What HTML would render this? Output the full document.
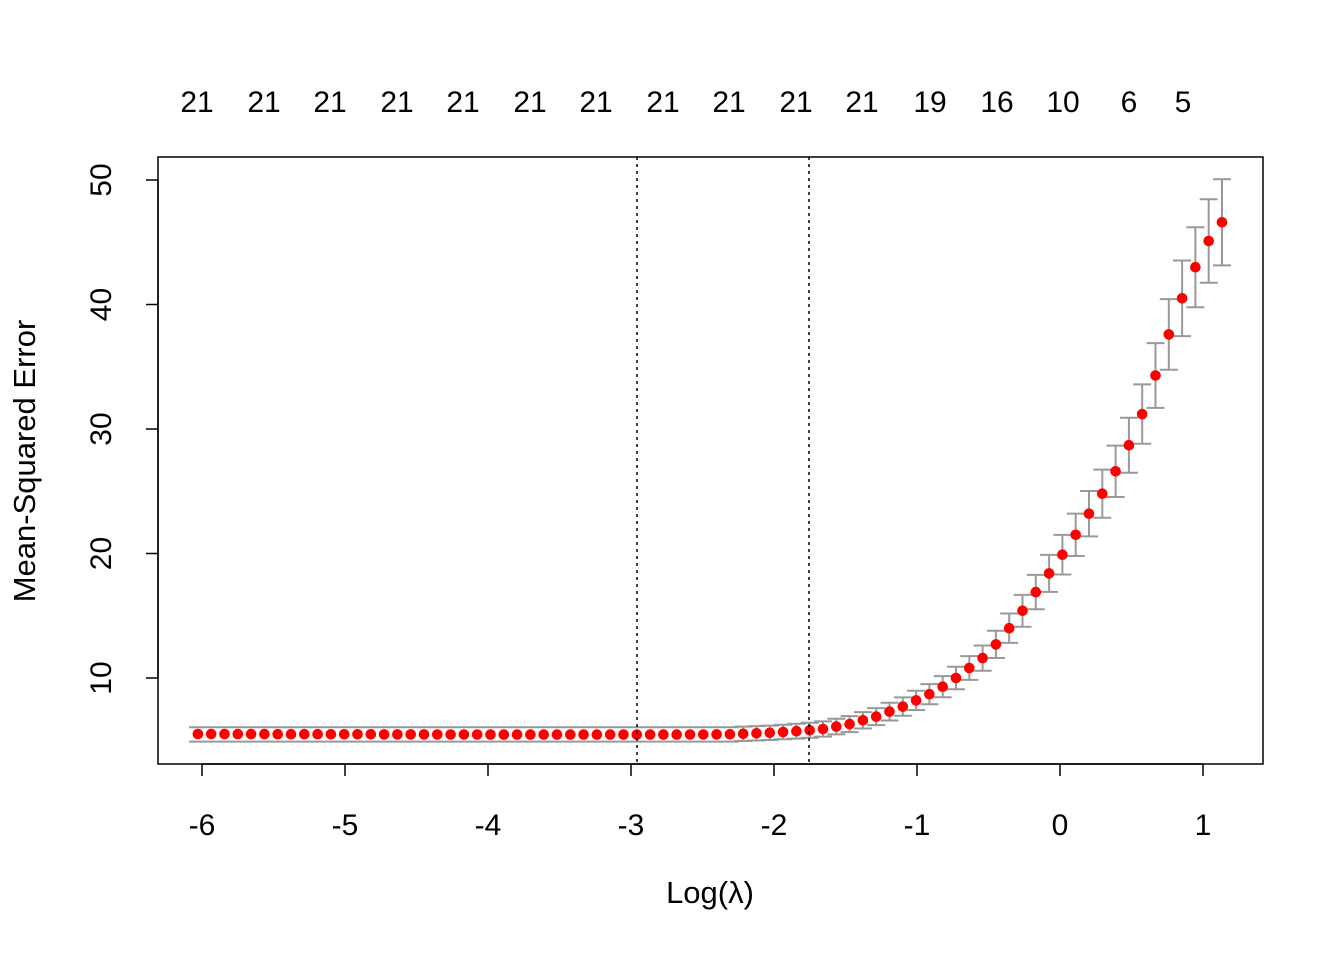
<!DOCTYPE html>
<html><head><meta charset="utf-8"><style>
html,body{margin:0;padding:0;background:#fff;}
svg text{font-family:"Liberation Sans",Arial,sans-serif;fill:#000;}
</style></head><body>
<svg width="1344" height="960" xmlns="http://www.w3.org/2000/svg">
<rect x="158" y="157" width="1105" height="607" fill="none" stroke="#000" stroke-width="1.5"/>
<g stroke="#999" stroke-width="2" fill="none">
<line x1="189" y1="727.2" x2="739" y2="727.2"/>
<line x1="189" y1="741.6" x2="739" y2="741.6"/>
<path d="M1222 179.2V265.4M1213 179.2H1231M1213 265.4H1231
M1208.7 199.2V282.8M1199.7 199.2H1217.7M1199.7 282.8H1217.7
M1195.4 227.2V307.2M1186.4 227.2H1204.4M1186.4 307.2H1204.4
M1182.1 260.5V336.1M1173.1 260.5H1191.1M1173.1 336.1H1191.1
M1168.8 299.1V369.7M1159.8 299.1H1177.8M1159.8 369.7H1177.8
M1155.5 343.1V407.9M1146.5 343.1H1164.5M1146.5 407.9H1164.5
M1142.2 384.4V443.8M1133.2 384.4H1151.2M1133.2 443.8H1151.2
M1128.9 417.7V472.7M1119.9 417.7H1137.9M1119.9 472.7H1137.9
M1115.6 445.6V497M1106.6 445.6H1124.6M1106.6 497H1124.6
M1102.3 469.6V517.8M1093.3 469.6H1111.3M1093.3 517.8H1111.3
M1089 491V536.4M1080 491H1098M1080 536.4H1098
M1075.7 513.6V556M1066.7 513.6H1084.7M1066.7 556H1084.7
M1062.4 534.9V574.5M1053.4 534.9H1071.4M1053.4 574.5H1071.4
M1049.1 554.9V591.9M1040.1 554.9H1058.1M1040.1 591.9H1058.1
M1035.8 574.9V609.3M1026.8 574.9H1044.8M1026.8 609.3H1044.8
M1022.5 594.9V626.7M1013.5 594.9H1031.5M1013.5 626.7H1031.5
M1009.2 613.5V642.9M1000.2 613.5H1018.2M1000.2 642.9H1018.2
M995.9 630.8V658M986.9 630.8H1004.9M986.9 658H1004.9
M982.6 645.5V670.7M973.6 645.5H991.6M973.6 670.7H991.6
M969.3 656.1V679.9M960.3 656.1H978.3M960.3 679.9H978.3
M956 666.8V689.2M947 666.8H965M947 689.2H965
M942.7 676.1V697.3M933.7 676.1H951.7M933.7 697.3H951.7
M929.4 684.1V704.3M920.4 684.1H938.4M920.4 704.3H938.4
M916.1 690.8V710M907.1 690.8H925.1M907.1 710H925.1
M902.8 697.4V715.8M893.8 697.4H911.8M893.8 715.8H911.8
M889.5 702.7V720.5M880.5 702.7H898.5M880.5 720.5H898.5
M876.2 708.1V725.1M867.2 708.1H885.2M867.2 725.1H885.2
M862.9 712.1V728.5M853.9 712.1H871.9M853.9 728.5H871.9
M849.6 716.1V732.1M840.6 716.1H858.6M840.6 732.1H858.6
M836.3 718.8V734.4M827.3 718.8H845.3M827.3 734.4H845.3
M823 721.4V736.6M814 721.4H832M814 736.6H832
M809.7 722.8V737.8M800.7 722.8H818.7M800.7 737.8H818.7
M796.4 723.8V738.6M787.4 723.8H805.4M787.4 738.6H805.4
M783.1 724.7V739.3M774.1 724.7H792.1M774.1 739.3H792.1
M769.8 725.6V740M760.8 725.6H778.8M760.8 740H778.8
M756.5 726.1V740.5M747.5 726.1H765.5M747.5 740.5H765.5
M743.2 726.6V741M734.2 726.6H752.2M734.2 741H752.2"/>
</g>
<g fill="#ff0000">
<circle cx="1222" cy="222.3" r="5.3"/><circle cx="1208.7" cy="241" r="5.3"/><circle cx="1195.4" cy="267.2" r="5.3"/>
<circle cx="1182.1" cy="298.3" r="5.3"/><circle cx="1168.8" cy="334.4" r="5.3"/><circle cx="1155.5" cy="375.5" r="5.3"/>
<circle cx="1142.2" cy="414.1" r="5.3"/><circle cx="1128.9" cy="445.2" r="5.3"/><circle cx="1115.6" cy="471.3" r="5.3"/>
<circle cx="1102.3" cy="493.7" r="5.3"/><circle cx="1089" cy="513.7" r="5.3"/><circle cx="1075.7" cy="534.8" r="5.3"/>
<circle cx="1062.4" cy="554.7" r="5.3"/><circle cx="1049.1" cy="573.4" r="5.3"/><circle cx="1035.8" cy="592.1" r="5.3"/>
<circle cx="1022.5" cy="610.8" r="5.3"/><circle cx="1009.2" cy="628.2" r="5.3"/><circle cx="995.9" cy="644.4" r="5.3"/>
<circle cx="982.6" cy="658.1" r="5.3"/><circle cx="969.3" cy="668" r="5.3"/><circle cx="956" cy="678" r="5.3"/>
<circle cx="942.7" cy="686.7" r="5.3"/><circle cx="929.4" cy="694.2" r="5.3"/><circle cx="916.1" cy="700.4" r="5.3"/>
<circle cx="902.8" cy="706.6" r="5.3"/><circle cx="889.5" cy="711.6" r="5.3"/><circle cx="876.2" cy="716.6" r="5.3"/>
<circle cx="862.9" cy="720.3" r="5.3"/><circle cx="849.6" cy="724.1" r="5.3"/><circle cx="836.3" cy="726.6" r="5.3"/>
<circle cx="823" cy="729" r="5.3"/><circle cx="809.7" cy="730.3" r="5.3"/><circle cx="796.4" cy="731.2" r="5.3"/>
<circle cx="783.1" cy="732" r="5.3"/><circle cx="769.8" cy="732.8" r="5.3"/><circle cx="756.5" cy="733.3" r="5.3"/>
<circle cx="743.2" cy="733.8" r="5.3"/>
<circle cx="729.9" cy="734.3" r="5.3"/><circle cx="716.6" cy="734.4" r="5.3"/><circle cx="703.3" cy="734.5" r="5.3"/>
<circle cx="690" cy="734.5" r="5.3"/><circle cx="676.7" cy="734.6" r="5.3"/><circle cx="663.4" cy="734.6" r="5.3"/>
<circle cx="650.1" cy="734.6" r="5.3"/><circle cx="636.8" cy="734.6" r="5.3"/><circle cx="623.5" cy="734.6" r="5.3"/>
<circle cx="610.2" cy="734.6" r="5.3"/><circle cx="596.9" cy="734.6" r="5.3"/><circle cx="583.6" cy="734.6" r="5.3"/>
<circle cx="570.3" cy="734.6" r="5.3"/><circle cx="557" cy="734.6" r="5.3"/><circle cx="543.7" cy="734.6" r="5.3"/>
<circle cx="530.4" cy="734.6" r="5.3"/><circle cx="517.1" cy="734.6" r="5.3"/><circle cx="503.8" cy="734.6" r="5.3"/>
<circle cx="490.5" cy="734.6" r="5.3"/><circle cx="477.2" cy="734.5" r="5.3"/><circle cx="463.9" cy="734.5" r="5.3"/>
<circle cx="450.6" cy="734.5" r="5.3"/><circle cx="437.3" cy="734.5" r="5.3"/><circle cx="424" cy="734.4" r="5.3"/>
<circle cx="410.7" cy="734.4" r="5.3"/><circle cx="397.4" cy="734.4" r="5.3"/><circle cx="384.1" cy="734.4" r="5.3"/>
<circle cx="370.8" cy="734.3" r="5.3"/><circle cx="357.5" cy="734.3" r="5.3"/><circle cx="344.2" cy="734.3" r="5.3"/>
<circle cx="330.9" cy="734.3" r="5.3"/><circle cx="317.6" cy="734.2" r="5.3"/><circle cx="304.3" cy="734.2" r="5.3"/>
<circle cx="291" cy="734.2" r="5.3"/><circle cx="277.7" cy="734.2" r="5.3"/><circle cx="264.4" cy="734.1" r="5.3"/>
<circle cx="251.1" cy="734.1" r="5.3"/><circle cx="237.8" cy="734.1" r="5.3"/><circle cx="224.5" cy="734.1" r="5.3"/>
<circle cx="211.2" cy="734" r="5.3"/><circle cx="197.9" cy="734" r="5.3"/>
</g>
<line x1="637" y1="157" x2="637" y2="764" stroke="#000" stroke-width="1.5" stroke-dasharray="3,4"/>
<line x1="809" y1="157" x2="809" y2="764" stroke="#000" stroke-width="1.5" stroke-dasharray="3,4"/>
<g stroke="#000" stroke-width="1.5">
<line x1="202" y1="764" x2="1203" y2="764"/>
<line x1="202" y1="764" x2="202" y2="776"/><line x1="345" y1="764" x2="345" y2="776"/>
<line x1="488" y1="764" x2="488" y2="776"/><line x1="631" y1="764" x2="631" y2="776"/>
<line x1="774" y1="764" x2="774" y2="776"/><line x1="917" y1="764" x2="917" y2="776"/>
<line x1="1060" y1="764" x2="1060" y2="776"/><line x1="1203" y1="764" x2="1203" y2="776"/>
<line x1="158" y1="180" x2="158" y2="678"/>
<line x1="158" y1="180" x2="146" y2="180"/><line x1="158" y1="304.5" x2="146" y2="304.5"/>
<line x1="158" y1="429" x2="146" y2="429"/><line x1="158" y1="553.5" x2="146" y2="553.5"/>
<line x1="158" y1="678" x2="146" y2="678"/>
</g>
<g font-size="30" text-anchor="middle">
<text x="202" y="835">-6</text><text x="345" y="835">-5</text><text x="488" y="835">-4</text>
<text x="631" y="835">-3</text><text x="774" y="835">-2</text><text x="917" y="835">-1</text>
<text x="1060" y="835">0</text><text x="1203" y="835">1</text>
<text transform="translate(111,180) rotate(-90)">50</text>
<text transform="translate(111,304.5) rotate(-90)">40</text>
<text transform="translate(111,429) rotate(-90)">30</text>
<text transform="translate(111,553.5) rotate(-90)">20</text>
<text transform="translate(111,678) rotate(-90)">10</text>
<text transform="translate(35,461) rotate(-90)" font-size="31">Mean-Squared Error</text>
<text x="710" y="903" font-size="31">Log(λ)</text>
<text x="197" y="112">21</text><text x="264" y="112">21</text><text x="330" y="112">21</text>
<text x="397" y="112">21</text><text x="463" y="112">21</text><text x="530" y="112">21</text>
<text x="596" y="112">21</text><text x="663" y="112">21</text><text x="729" y="112">21</text>
<text x="796" y="112">21</text><text x="862" y="112">21</text><text x="930" y="112">19</text>
<text x="997" y="112">16</text><text x="1063" y="112">10</text><text x="1129" y="112">6</text>
<text x="1183" y="112">5</text>
</g>
</svg>
</body></html>
